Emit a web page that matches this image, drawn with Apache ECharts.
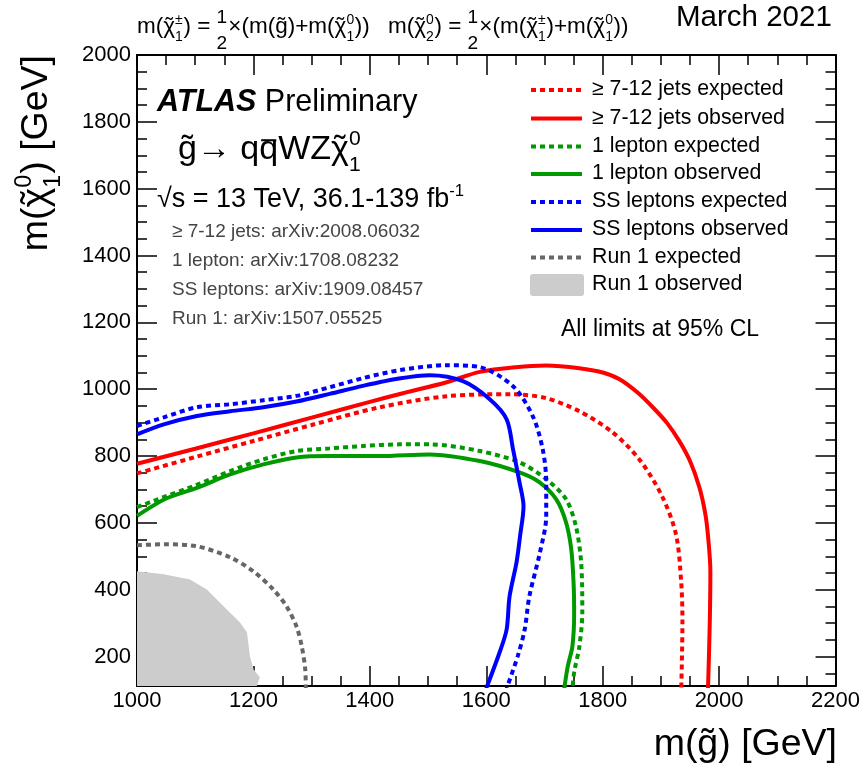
<!DOCTYPE html>
<html><head><meta charset="utf-8">
<script src="https://cdn.jsdelivr.net/npm/echarts@6/dist/echarts.min.js"></script>
<style>html,body{margin:0;padding:0;background:#fff}#c{width:863px;height:772px}</style>
</head><body><div id="c"></div>
<script>
const FONT = '"Liberation Sans", Arial, Helvetica, sans-serif';

// ---- data (m(gluino), m(neutralino)) in GeV ----
const jetsExpected = [[1000,748],[1100,797],[1200,845],[1300,893],[1417,946],[1532,979],[1645,985],[1703,973],[1760,934],[1817,871],[1863,790],[1902,680],[1926,565],[1935,420],[1937,305],[1935,105]];
const jetsObserved = [[1000,777],[1100,822],[1200,868],[1300,915],[1400,962],[1450,985],[1532,1021],[1589,1052],[1650,1066],[1703,1071],[1760,1063],[1800,1050],[1829,1030],[1860,990],[1886,946],[1910,900],[1932,844],[1950,785],[1966,707],[1976,630],[1981,560],[1985,455],[1984,305],[1981,105]];
const lepExpected = [[1000,647],[1050,680],[1100,712],[1160,755],[1217,790],[1274,815],[1331,823],[1388,830],[1451,835],[1503,835],[1589,815],[1657,781],[1703,731],[1737,671],[1754,590],[1763,482],[1765,332],[1760,231],[1751,153],[1748,105]];
const lepObserved = [[1000,621],[1050,673],[1103,705],[1160,745],[1217,775],[1274,796],[1331,800],[1417,800],[1503,805],[1589,785],[1657,751],[1691,722],[1720,671],[1737,602],[1746,521],[1750,420],[1751,332],[1748,231],[1740,171],[1734,105]];
const ssExpected = [[1000,890],[1046,916],[1103,946],[1160,955],[1217,967],[1274,980],[1331,1006],[1388,1033],[1451,1057],[1532,1072],[1589,1066],[1646,1009],[1680,919],[1697,820],[1703,722],[1703,620],[1692,510],[1674,380],[1666,281],[1654,201],[1635,105]];
const ssObserved = [[1000,865],[1046,895],[1103,920],[1160,934],[1217,946],[1274,963],[1331,986],[1388,1010],[1450,1032],[1503,1042],[1560,1024],[1606,970],[1635,910],[1646,820],[1657,722],[1664,650],[1658,560],[1652,482],[1640,380],[1635,281],[1623,213],[1600,105]];
const run1Expected = [[1000,533],[1046,536],[1103,530],[1160,497],[1200,455],[1234,401],[1257,350],[1274,290],[1283,231],[1289,162],[1290,105]];
const run1Observed = [[1000,455],[1046,446],[1091,431],[1120,401],[1149,350],[1177,302],[1189,272],[1194,201],[1200,162],[1211,138],[1206,112]];

const xMin = 1000, xMax = 2200, xStep = 200;
const yMin = 112, yMax = 2000;
const yMajorTicks = [200,400,600,800,1000,1200,1400,1600,1800,2000];
const yMinorTicks = [150,250,300,350,450,500,550,650,700,750,850,900,950,1050,1100,1150,1250,1300,1350,1450,1500,1550,1650,1700,1750,1850,1900,1950];

const legendLabels = ['\u2265 7-12 jets expected','\u2265 7-12 jets observed','1 lepton expected','1 lepton observed','SS leptons expected','SS leptons observed','Run 1 expected','Run 1 observed'];
const refLabels = ['\u2265 7-12 jets: arXiv:2008.06032','1 lepton: arXiv:1708.08232','SS leptons: arXiv:1909.08457','Run 1: arXiv:1507.05525'];

// ---- text layout helpers ----
const mctx = document.createElement('canvas').getContext('2d');
function mw(s, size, weight, style){ mctx.font = (style||'normal')+' '+(weight||'normal')+' '+size+'px '+FONT; return mctx.measureText(s).width; }
function layout(tokens, size, color){
  const els=[]; let x=0;
  const T=(s,xx,base,sz,o)=>{ o=o||{}; els.push({type:'text', x:xx, y:base-0.35*sz, silent:true, style:{text:s, fontSize:sz, fontFamily:FONT, fontWeight:o.w||'normal', fontStyle:o.i||'normal', fill:o.c||color, align:'left', verticalAlign:'middle'}}); };
  for (const tk of tokens){
    if (typeof tk==='string'){ T(tk,x,0,size); x+=mw(tk,size); }
    else if (tk.tilde){ const w=mw(tk.tilde,size); T(tk.tilde,x,0,size); const tw=mw('\u02DC',size); T('\u02DC', x+(w-tw)/2, 0, size); x+=w; }
    else if (tk.bar){ const w=mw(tk.bar,size); T(tk.bar,x,0,size); els.push({type:'line', silent:true, shape:{x1:x+0.1*w,y1:-0.64*size,x2:x+0.9*w,y2:-0.64*size}, style:{stroke:color,lineWidth:Math.max(1,size*0.06)}}); x+=w; }
    else if (tk.frac){ const fs=size*0.85; const w1=mw(tk.frac[0],fs), w2=mw(tk.frac[1],fs), w=Math.max(w1,w2); T(tk.frac[0],x+(w-w1)/2,-0.45*size,fs); T(tk.frac[1],x+(w-w2)/2,0.68*size,fs); x+=w+0.05*size; }
    else if (tk.b){ T(tk.b,x,0,size,{w:'bold',i:'italic'}); x+=mw(tk.b,size,'bold','italic'); }
    else { const ss=size*0.62; let w=0;
      if (tk.sup!==undefined){ T(tk.sup,x,-0.45*size,ss); w=Math.max(w,mw(tk.sup,ss)); }
      if (tk.sub!==undefined){ T(tk.sub,x,0.32*size,ss); w=Math.max(w,mw(tk.sub,ss)); }
      x+=w+0.03*size; }
  }
  return {els, width:x};
}
function mathGroup(tokens,size,x,base,opt){ opt=opt||{}; const L=layout(tokens,size,opt.color||'#000'); return {type:'group', x: opt.align==='right'? x-L.width : x, y:base, children:L.els}; }

const chi = {tilde:'\u03C7'};
const gl = {tilde:'g'};
const graphics = [];
// header
graphics.push(mathGroup(['m(',chi,{sub:'1',sup:'\u00B1'},') = ',{frac:['1','2']},'\u00D7(m(',gl,')+m(',chi,{sub:'1',sup:'0'},'))'],22.5,137,35));
graphics.push(mathGroup(['m(',chi,{sub:'2',sup:'0'},') = ',{frac:['1','2']},'\u00D7(m(',chi,{sub:'1',sup:'\u00B1'},')+m(',chi,{sub:'1',sup:'0'},'))'],22.5,388,35));
graphics.push(mathGroup(['March 2021'],29.5,676,28));
// axis titles
graphics.push(mathGroup(['m(',gl,') [GeV]'],37.5,837,758,{align:'right'}));
(function(){ const L=layout(['m(',chi,{sub:'1',sup:'0'},') [GeV]'],37.5,'#000'); graphics.push({type:'group', x:50, y:55+L.width, rotation:Math.PI/2, children:L.els}); })();
// ATLAS block
graphics.push(mathGroup([{b:'ATLAS'},' Preliminary'],30.5,157,113));
graphics.push(mathGroup([gl,'\u2192 q',{bar:'q'},'WZ',chi,{sub:'1',sup:'0'}],34,178,162));
graphics.push(mathGroup(['\u221As = 13 TeV, 36.1-139 fb',{sup:'-1'}],27,157,209));
const refBase=[238,267,296,325];
refLabels.forEach((t,i)=>graphics.push(mathGroup([t],19,172,refBase[i],{color:'#444'})));
graphics.push(mathGroup(['All limits at 95% CL'],23,561,338));
// legend
const legColors=['#ff0000','#ff0000','#009900','#009900','#0000ff','#0000ff','#666666'];
const legRows=[90,118.5,146.5,174,202,230,257.5,285];
legendLabels.forEach((t,i)=>{
  const cy=legRows[i];
  if(i<7){ graphics.push({type:'line', silent:true, shape:{x1:531,y1:cy,x2:582,y2:cy}, style:{stroke:legColors[i], lineWidth:4, lineDash: i%2===0 ? [5,4] : null, lineCap:'butt'}}); }
  else { graphics.push({type:'rect', silent:true, shape:{x:530,y:cy-11,width:54,height:22,r:3}, style:{fill:'#cccccc'}}); }
  graphics.push(mathGroup([t],21.3,592,cy+7));
});

function lineSeries(name,data,color,dotted,z){
  return {name, type:'line', data, xAxisIndex:0, yAxisIndex:0, symbol:'none', showSymbol:false, smooth:0.3, clip:true, z,
    lineStyle:{color, width:4, type: dotted?[5,4]:'solid', cap:'butt'}};
}
const plain = v => String(v);
const axisCommon = {type:'value', splitLine:{show:false}, minorSplitLine:{show:false}};
const tickStyle = {color:'#000', width:1.5};
const option = {
  animation:false,
  grid:{left:137, right:26, top:55, bottom:86, containLabel:false},
  xAxis:[
    Object.assign({}, axisCommon, {position:'bottom', min:xMin, max:xMax, interval:xStep,
      axisLine:{onZero:false, lineStyle:{color:'#000', width:2}},
      axisTick:{inside:true, length:20, lineStyle:tickStyle},
      minorTick:{show:true, splitNumber:4, length:10, lineStyle:tickStyle},
      axisLabel:{fontSize:22, color:'#000', fontFamily:FONT, margin:4, formatter:plain}}),
    Object.assign({}, axisCommon, {position:'top', min:xMin, max:xMax, interval:xStep,
      axisLine:{onZero:false, lineStyle:{color:'#000', width:2}},
      axisTick:{inside:true, length:20, lineStyle:tickStyle},
      minorTick:{show:true, splitNumber:4, length:10, lineStyle:tickStyle},
      axisLabel:{show:false}})
  ],
  yAxis:[
    Object.assign({}, axisCommon, {position:'left', min:yMin, max:yMax,
      axisLine:{onZero:false, lineStyle:{color:'#000', width:2}},
      axisTick:{inside:true, length:20, customValues:yMajorTicks, lineStyle:tickStyle},
      axisLabel:{customValues:yMajorTicks, fontSize:22, color:'#000', fontFamily:FONT, margin:6, formatter:plain}}),
    Object.assign({}, axisCommon, {position:'left', min:yMin, max:yMax,
      axisLine:{show:false}, axisTick:{inside:true, length:10, customValues:yMinorTicks, lineStyle:tickStyle}, axisLabel:{show:false}}),
    Object.assign({}, axisCommon, {position:'right', min:yMin, max:yMax,
      axisLine:{onZero:false, lineStyle:{color:'#000', width:2}},
      axisTick:{inside:true, length:20, customValues:yMajorTicks, lineStyle:tickStyle}, axisLabel:{show:false}}),
    Object.assign({}, axisCommon, {position:'right', min:yMin, max:yMax,
      axisLine:{show:false}, axisTick:{inside:true, length:10, customValues:yMinorTicks, lineStyle:tickStyle}, axisLabel:{show:false}})
  ],
  series:[
    {name:'Run 1 observed', type:'line', data:run1Observed, symbol:'none', showSymbol:false, clip:true, z:1,
      lineStyle:{width:0, color:'#cccccc'}, areaStyle:{color:'#cccccc', opacity:1, origin:'start'}},
    lineSeries('Run 1 expected', run1Expected, '#666666', true, 2),
    lineSeries('>= 7-12 jets expected', jetsExpected, '#ff0000', true, 3),
    lineSeries('>= 7-12 jets observed', jetsObserved, '#ff0000', false, 3),
    lineSeries('1 lepton expected', lepExpected, '#009900', true, 4),
    lineSeries('1 lepton observed', lepObserved, '#009900', false, 4),
    lineSeries('SS leptons expected', ssExpected, '#0000ff', true, 5),
    lineSeries('SS leptons observed', ssObserved, '#0000ff', false, 5)
  ],
  graphic: graphics
};
const chart = echarts.init(document.getElementById('c'), null, {renderer:'canvas'});
chart.setOption(option);
</script>
</body></html>
